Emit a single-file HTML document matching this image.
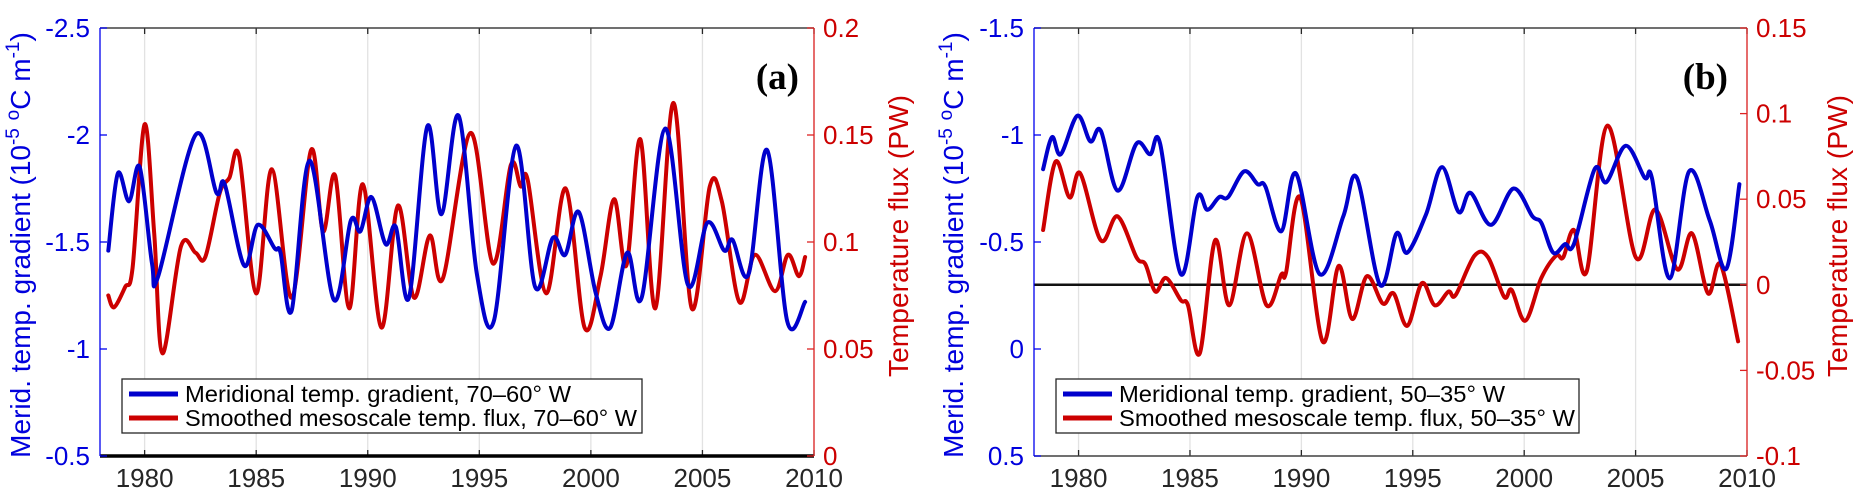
<!DOCTYPE html>
<html><head><meta charset="utf-8">
<style>
html,body{margin:0;padding:0;background:#fff;}
svg{display:block;font-family:"Liberation Sans",sans-serif;}
</style></head>
<body>
<svg id="chart" width="1855" height="488" viewBox="0 0 1855 488" xmlns="http://www.w3.org/2000/svg"></svg>
<script>
// Panel (a) data
const yearsA_grad = [1978.37,1978.8,1979.3,1979.78,1980.33,1980.61,1982.28,1983.22,1983.59,1984.46,1985.07,1985.83,1986.09,1986.59,1987.39,1988.48,1989.24,1989.67,1990.17,1990.8,1991.26,1991.85,1992.67,1993.3,1994.07,1994.89,1995.65,1996.65,1997.5,1998.3,1998.85,1999.46,2000.22,2000.87,2001.63,2002.28,2003.33,2004.35,2005.22,2005.98,2006.35,2007.07,2007.9,2008.8,2009.6];
const gradA = [-1.46,-1.82,-1.69,-1.85,-1.40,-1.34,-2.00,-1.73,-1.77,-1.39,-1.58,-1.47,-1.45,-1.18,-1.88,-1.23,-1.60,-1.55,-1.71,-1.49,-1.57,-1.24,-2.04,-1.63,-2.09,-1.35,-1.13,-1.95,-1.29,-1.52,-1.44,-1.64,-1.26,-1.10,-1.45,-1.24,-2.03,-1.30,-1.59,-1.46,-1.51,-1.35,-1.93,-1.13,-1.22];
const yearsA_flux = [1978.37,1978.63,1979.13,1979.46,1980.0,1980.43,1980.8,1981.63,1982.28,1982.72,1983.37,1983.8,1984.24,1985.0,1985.7,1986.59,1987.46,1988.0,1988.54,1989.17,1989.78,1990.61,1991.35,1992.07,1992.78,1993.37,1994.61,1995.61,1996.41,1996.85,1997.17,1998.0,1998.87,1999.72,2000.43,2001.04,2001.59,2002.22,2002.89,2003.7,2004.52,2005.33,2005.87,2006.65,2007.35,2008.25,2008.83,2009.32,2009.6];
const fluxA = [0.075,0.0695,0.079,0.088,0.155,0.104,0.048,0.098,0.095,0.093,0.123,0.130,0.140,0.076,0.134,0.074,0.143,0.105,0.131,0.069,0.127,0.060,0.117,0.074,0.103,0.083,0.151,0.090,0.136,0.126,0.129,0.076,0.125,0.060,0.084,0.120,0.089,0.148,0.069,0.165,0.069,0.126,0.119,0.072,0.094,0.077,0.094,0.084,0.093];
// Panel (b) data
const yearsB_grad = [1978.41,1978.81,1979.2,1979.95,1980.53,1981.0,1981.75,1982.6,1983.21,1983.66,1984.59,1985.33,1985.78,1986.31,1986.71,1987.43,1988.04,1988.38,1989.1,1989.76,1990.82,1991.88,1992.49,1993.53,1994.27,1994.75,1995.6,1996.31,1997.06,1997.59,1998.51,1999.52,2000.37,2000.77,2001.3,2001.83,2002.23,2003.16,2003.69,2004.56,2005.41,2005.73,2006.53,2007.4,2008.33,2009.07,2009.66];
const gradB = [-0.84,-0.99,-0.91,-1.09,-0.97,-1.02,-0.74,-0.96,-0.91,-0.96,-0.35,-0.71,-0.65,-0.71,-0.71,-0.83,-0.77,-0.76,-0.55,-0.82,-0.35,-0.62,-0.80,-0.30,-0.54,-0.45,-0.63,-0.85,-0.64,-0.73,-0.58,-0.75,-0.62,-0.59,-0.45,-0.49,-0.49,-0.84,-0.78,-0.95,-0.80,-0.80,-0.33,-0.83,-0.60,-0.375,-0.77];
const yearsB_flux = [1978.41,1978.97,1979.6,1980.08,1981.0,1981.75,1982.6,1983.0,1983.45,1983.93,1984.59,1984.91,1985.44,1986.13,1986.76,1987.56,1988.44,1989.1,1989.31,1989.95,1990.95,1991.67,1992.28,1992.94,1993.66,1994.14,1994.75,1995.41,1995.99,1996.6,1996.92,1997.77,1998.38,1999.1,1999.44,2000.05,2000.77,2001.43,2001.75,2002.23,2002.81,2003.74,2005.01,2005.89,2006.87,2007.53,2008.25,2008.81,2009.6];
const fluxB = [0.032,0.072,0.051,0.065,0.026,0.040,0.016,0.012,-0.004,0.004,-0.009,-0.012,-0.040,0.026,-0.012,0.030,-0.012,0.006,0.007,0.051,-0.033,0.011,-0.020,0.005,-0.011,-0.005,-0.024,0.001,-0.012,-0.004,-0.006,0.017,0.016,-0.007,-0.003,-0.021,0.004,0.017,0.016,0.032,0.008,0.093,0.016,0.044,0.009,0.030,-0.005,0.012,-0.033];
const yearTicks = [1980,1985,1990,1995,2000,2005,2010];
const leftTicksA = [-2.5,-2,-1.5,-1,-0.5];
const rightTicksA = [0,0.05,0.1,0.15,0.2];
const leftTicksB = [-1.5,-1,-0.5,0,0.5];
const rightTicksB = [-0.1,-0.05,0,0.05,0.1,0.15];

const NS="http://www.w3.org/2000/svg";
const svg=document.getElementById('chart');
function mk(tag,attrs,parent){const e=document.createElementNS(NS,tag);for(const k in attrs)e.setAttribute(k,attrs[k]);(parent||svg).appendChild(e);return e;}
function smooth(pts){let d='M'+pts[0][0].toFixed(1)+','+pts[0][1].toFixed(1);
 for(let i=0;i<pts.length-1;i++){const p0=pts[i-1]||pts[i],p1=pts[i],p2=pts[i+1],p3=pts[i+2]||p2;
  const c1=[p1[0]+(p2[0]-p0[0])/6,p1[1]+(p2[1]-p0[1])/6],c2=[p2[0]-(p3[0]-p1[0])/6,p2[1]-(p3[1]-p1[1])/6];
  d+=' C'+c1[0].toFixed(1)+','+c1[1].toFixed(1)+' '+c2[0].toFixed(1)+','+c2[1].toFixed(1)+' '+p2[0].toFixed(1)+','+p2[1].toFixed(1);}
 return d;}

function panel(cfg){
 const g=mk('g',{});
 
 
 const L=cfg.x0,R=cfg.x1,T=28,B=456;
 const X=y=>L+(y-1978)/(2010-1978)*(R-L);
 const YL=v=>T+(v-cfg.lmin)/(cfg.lmax-cfg.lmin)*(B-T);
 const YR=v=>B-(v-cfg.rmin)/(cfg.rmax-cfg.rmin)*(B-T);
 yearTicks.forEach(yr=>{const x=X(yr);
  const gl=mk('line',{x1:x,x2:x,y1:T,y2:B,stroke:'#e2e2e2','stroke-width':1.3},g);
  
  
  mk('line',{x1:x,x2:x,y1:T,y2:T+6,stroke:'#262626','stroke-width':1.3},g);
  mk('line',{x1:x,x2:x,y1:B,y2:B-6,stroke:'#262626','stroke-width':1.3},g);
  const t=mk('text',{x:x,y:487,'font-size':26,'text-anchor':'middle',fill:'#262626'},g);
  t.textContent=yr;
  
  
 });
 mk('line',{x1:L,x2:R,y1:T,y2:T,stroke:'#404040','stroke-width':1.5},g);
 mk('line',{x1:L,x2:R,y1:B,y2:B,stroke:cfg.bottomColor,'stroke-width':cfg.bottomW},g);
 if(cfg.zeroLine){const z=mk('line',{x1:L,x2:R,y1:YR(0),y2:YR(0),stroke:'#111','stroke-width':2.5},g);
  
  }
 mk('line',{x1:L,x2:L,y1:T,y2:B,stroke:'#0000ee','stroke-width':1.3},g);
 cfg.lticks.forEach(v=>{const y=YL(v);
  mk('line',{x1:L,x2:L+7,y1:y,y2:y,stroke:'#0000ee','stroke-width':1.3},g);
  const t=mk('text',{x:L-10,y:y+9,'font-size':26,'text-anchor':'end',fill:'#0000dd'},g);
  t.textContent=v;
  
  });
 mk('line',{x1:R,x2:R,y1:T,y2:B,stroke:'#dd2222','stroke-width':1.3},g);
 cfg.rticks.forEach(v=>{const y=YR(v);
  mk('line',{x1:R,x2:R-7,y1:y,y2:y,stroke:'#dd2222','stroke-width':1.3},g);
  const t=mk('text',{x:R+9,y:y+9,'font-size':26,'text-anchor':'start',fill:'#cc0000'},g);
  t.textContent=v;
  
  });
 const red=mk('path',{d:smooth(cfg.fy.map((y,i)=>[X(y),YR(cfg.fv[i])])),fill:'none',stroke:'#cc0000','stroke-width':4,'stroke-linejoin':'round','stroke-linecap':'round'},g);
 
 
 const blue=mk('path',{d:smooth(cfg.gy.map((y,i)=>[X(y),YL(cfg.gv[i])])),fill:'none',stroke:'#0000cc','stroke-width':4,'stroke-linejoin':'round','stroke-linecap':'round'},g);
 
 
 const ly=mk('text',{transform:`translate(${cfg.lLabX},245) rotate(-90)`,'font-size':28,'text-anchor':'middle',fill:'#0000dd'},g);
 ly.innerHTML='Merid. temp. gradient (10<tspan dy="-11" font-size="19">-5</tspan><tspan dy="11"> </tspan><tspan dy="-11" font-size="19">o</tspan><tspan dy="11">C m</tspan><tspan dy="-11" font-size="19">-1</tspan><tspan dy="11">)</tspan>';
 
 
 const ry=mk('text',{transform:`translate(${cfg.rLabX},236) rotate(-90)`,'font-size':28,'text-anchor':'middle',fill:'#cc0000',textLength:282,lengthAdjust:'spacingAndGlyphs'},g);
 ry.textContent='Temperature flux (PW)';
 
 
 const pl=mk('text',{x:cfg.plX,y:89,'font-size':37,'font-weight':'bold','font-family':'Liberation Serif, serif','text-anchor':'end',fill:'#000'},g);
 pl.textContent=cfg.plabel;
 
 
 const lg=mk('g',{},g);
 
 
 mk('rect',{x:cfg.lgX,y:379,width:cfg.lgW,height:54,fill:'#fff',stroke:'#262626','stroke-width':1.3},lg);
 mk('line',{x1:cfg.lgX+7,x2:cfg.lgX+56,y1:394,y2:394,stroke:'#0000cc','stroke-width':5},lg);
 mk('line',{x1:cfg.lgX+7,x2:cfg.lgX+56,y1:418,y2:418,stroke:'#cc0000','stroke-width':5},lg);
 const t1=mk('text',{x:cfg.lgX+63,y:402,'font-size':23,fill:'#000',textLength:386,lengthAdjust:'spacingAndGlyphs'},lg);
 t1.textContent='Meridional temp. gradient, '+cfg.range+'° W';
 
 
 const t2=mk('text',{x:cfg.lgX+63,y:426,'font-size':23,fill:'#000',textLength:cfg.lgT2,lengthAdjust:'spacingAndGlyphs'},lg);
 t2.textContent='Smoothed mesoscale temp. flux, '+cfg.range+'° W';
 
 
}
panel({name:'panel-a',x0:100,x1:814,lmin:-2.5,lmax:-0.5,rmin:0,rmax:0.2,lticks:leftTicksA,rticks:rightTicksA,
 gy:yearsA_grad,gv:gradA,fy:yearsA_flux,fv:fluxA,bottomColor:'#000',bottomW:3.5,zeroLine:false,
 lLabX:30,rLabX:908,plX:799,plabel:'(a)',lgX:122,lgW:520,lgT2:452,range:'70–60'});
panel({name:'panel-b',x0:1034,x1:1747,lmin:-1.5,lmax:0.5,rmin:-0.1,rmax:0.15,lticks:leftTicksB,rticks:rightTicksB,
 gy:yearsB_grad,gv:gradB,fy:yearsB_flux,fv:fluxB,bottomColor:'#404040',bottomW:1.5,zeroLine:true,
 lLabX:963,rLabX:1847,plX:1728,plabel:'(b)',lgX:1056,lgW:523,lgT2:456,range:'50–35'});
</script>
</body></html>
